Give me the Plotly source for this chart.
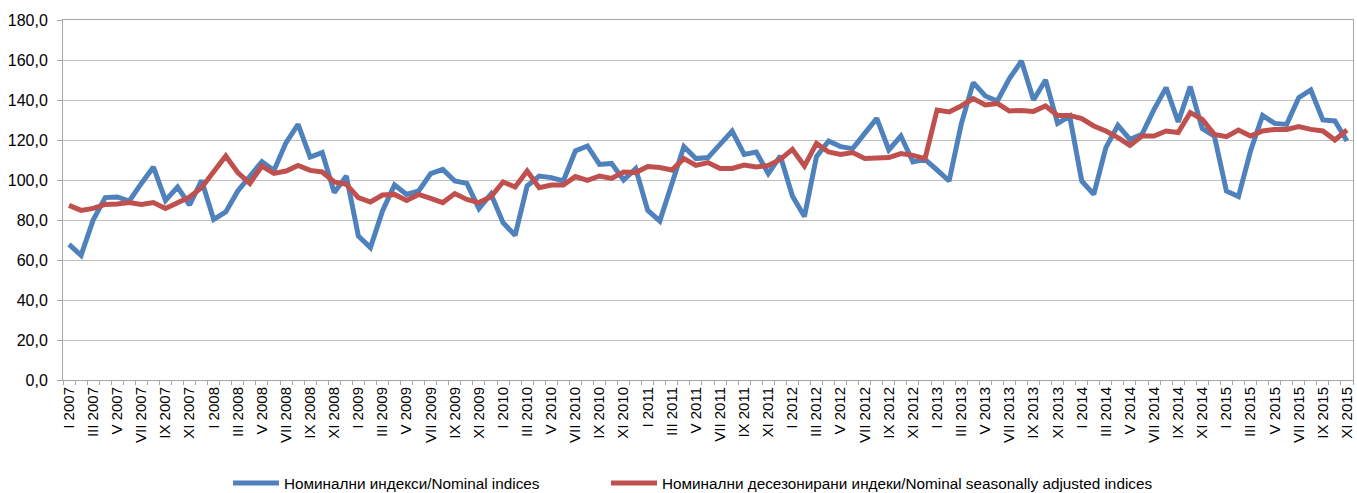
import plotly.graph_objects as go

roman_months = ["I", "II", "III", "IV", "V", "VI", "VII", "VIII", "IX", "X", "XI", "XII"]
years = [2007, 2008, 2009, 2010, 2011, 2012, 2013, 2014, 2015]
n_months = 107  # I 2007 .. XI 2015

categories = [f"{roman_months[k % 12]} {years[k // 12]}" for k in range(n_months)]

nominal = [
    67.8, 62.3, 80.0, 91.2, 91.5, 89.5, 98.3, 106.5, 89.8, 96.5, 87.5, 99.8,
    80.3, 84.0, 94.5, 102.0, 109.2, 104.8, 118.7, 127.8, 111.5, 113.7, 93.7, 102.0,
    72.0, 66.2, 84.5, 97.5, 92.8, 94.5, 103.2, 105.3, 99.5, 98.3, 85.7, 93.0,
    78.7, 72.3, 97.0, 102.0, 101.2, 99.5, 114.5, 117.0, 107.8, 108.3, 100.0, 105.7,
    84.8, 79.5, 98.7, 116.7, 110.7, 111.2, 117.8, 124.5, 112.8, 114.0, 103.2, 112.0,
    92.0, 81.7, 111.7, 119.5, 116.7, 115.7, 123.3, 130.8, 115.0, 122.0, 109.0, 110.3,
    105.0, 99.5, 127.8, 148.7, 142.0, 139.5, 150.7, 159.5, 140.0, 150.0, 128.3, 132.0,
    99.5, 92.8, 116.2, 127.3, 120.3, 122.8, 135.3, 146.2, 129.0, 146.7, 125.7, 122.0,
    94.5, 91.7, 114.5, 132.3, 128.3, 127.8, 141.2, 145.0, 130.0, 129.5, 119.5,
]

seasonally_adjusted = [
    87.3, 84.8, 85.8, 87.8, 88.0, 88.7, 87.8, 88.7, 85.8, 89.0, 91.5, 96.2,
    103.7, 112.0, 103.7, 98.3, 107.0, 103.3, 104.5, 107.3, 104.8, 104.0, 99.0, 97.8,
    91.2, 89.0, 92.5, 92.8, 89.8, 92.8, 90.8, 88.7, 93.2, 90.3, 88.7, 91.6,
    99.0, 96.5, 104.5, 96.2, 97.5, 97.5, 101.7, 99.8, 102.0, 100.8, 104.0, 103.7,
    106.7, 106.2, 105.0, 110.7, 107.3, 108.7, 105.7, 105.8, 107.5, 106.5, 107.3, 110.3,
    115.3, 107.0, 118.3, 114.0, 112.8, 113.7, 110.8, 111.2, 111.2, 113.2, 112.3, 110.7,
    135.0, 134.0, 137.0, 140.7, 137.5, 138.3, 134.5, 134.8, 134.3, 137.0, 132.3, 132.3,
    130.7, 127.0, 124.5, 121.2, 117.3, 122.0, 122.0, 124.5, 123.7, 133.7, 130.3, 122.8,
    121.7, 125.0, 122.0, 124.5, 125.3, 125.3, 126.7, 125.3, 124.5, 120.0, 125.0,
]

series_names = [
    "Номинални индекси/Nominal indices",
    "Номинални десезонирани индеки/Nominal seasonally adjusted indices",
]

x_idx = list(range(n_months))
label_idx = x_idx[::2]
label_text = [categories[k] for k in label_idx]

FONT = "Liberation Sans, Arial, sans-serif"

fig = go.Figure()
fig.add_trace(go.Scatter(x=x_idx, y=nominal, mode="lines", name=series_names[0],
                         line=dict(color="#4F81BD", width=5), customdata=categories,
                         legend="legend",
                         hovertemplate="%{customdata}: %{y}<extra></extra>"))
fig.add_trace(go.Scatter(x=x_idx, y=seasonally_adjusted, mode="lines", name=series_names[1],
                         line=dict(color="#C0504D", width=5), customdata=categories,
                         legend="legend2",
                         hovertemplate="%{customdata}: %{y}<extra></extra>"))

legend_common = dict(orientation="h", xanchor="left", y=-0.286, yanchor="middle",
                     font=dict(size=15.3), itemwidth=46, bgcolor="rgba(0,0,0,0)")

fig.update_layout(
    width=1357, height=493,
    margin=dict(l=63, r=4, t=20, b=113, autoexpand=False),
    paper_bgcolor="white", plot_bgcolor="white",
    separators=",.",
    font=dict(family=FONT, size=15, color="#000000"),
    showlegend=True,
    legend=dict(x=(228 - 63) / 1290, **legend_common),
    legend2=dict(x=(606 - 63) / 1290, **legend_common),
    xaxis=dict(
        range=[-0.5, n_months - 0.5], automargin=False,
        tickmode="array", tickvals=label_idx, ticktext=label_text,
        tickangle=-90, ticks="", showgrid=False, zeroline=False,
        showline=True, linecolor="#A6A6A6", linewidth=1, mirror=True,
        tickfont=dict(size=15),
        minor=dict(tick0=-0.5, dtick=1, ticks="outside", ticklen=4, tickcolor="#A6A6A6", showgrid=False),
    ),
    yaxis=dict(
        range=[0, 180], dtick=20, tickformat=".1f", automargin=False,
        showgrid=True, gridcolor="#BFBFBF", gridwidth=1, zeroline=False,
        showline=True, linecolor="#A6A6A6", linewidth=1, mirror=True,
        ticks="outside", ticklen=5, tickcolor="#A6A6A6", ticklabelstandoff=6,
        tickfont=dict(size=16),
    ),
)

fig.write_html("out.html", config={"displayModeBar": False},
               post_script="document.body.style.margin='0px';document.body.style.overflow='hidden';")
